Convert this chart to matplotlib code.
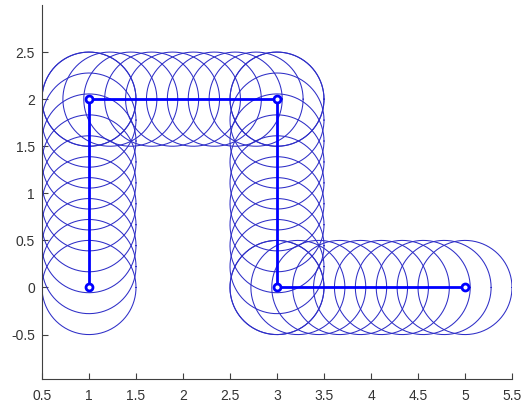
import numpy as np
import matplotlib
matplotlib.use("Agg")
import matplotlib.pyplot as plt

# Path vertices
path_x = [1, 1, 3, 3, 5]
path_y = [0, 2, 2, 0, 0]
radius = 0.5
samples_per_segment = 10

x_ticks = [0.5, 1, 1.5, 2, 2.5, 3, 3.5, 4, 4.5, 5, 5.5]
x_tick_labels = ["0.5", "1", "1.5", "2", "2.5", "3", "3.5", "4", "4.5", "5", "5.5"]
y_ticks = [-0.5, 0, 0.5, 1, 1.5, 2, 2.5]
y_tick_labels = ["-0.5", "0", "0.5", "1", "1.5", "2", "2.5"]

plt.rcParams['font.family'] = ['Liberation Sans', 'DejaVu Sans']

W, H = 528, 407
fig = plt.figure(figsize=(W / 100, H / 100), dpi=100)
left, right, top, bottom = 42, 512, 5, 379.3
ax = fig.add_axes([left / W, (H - bottom) / H, (right - left) / W, (bottom - top) / H])

theta = np.linspace(0, 2 * np.pi, 240)
for i in range(len(path_x) - 1):
    cx = np.linspace(path_x[i], path_x[i + 1], samples_per_segment)
    cy = np.linspace(path_y[i], path_y[i + 1], samples_per_segment)
    for x0, y0 in zip(cx, cy):
        ax.plot(x0 + radius * np.cos(theta), y0 + radius * np.sin(theta),
                color=(0.18, 0.18, 0.78), lw=0.75)

ax.plot(path_x, path_y, color=(0, 0, 1), lw=2.0, marker='o',
        markersize=5, markerfacecolor='white', markeredgecolor=(0, 0, 1),
        markeredgewidth=2.0, zorder=5)

ax.set_xlim(0.5, 5.5)
ax.set_ylim(-0.975, 3.0)
ax.set_xticks(x_ticks)
ax.set_xticklabels(x_tick_labels)
ax.set_yticks(y_ticks)
ax.set_yticklabels(y_tick_labels)

for side in ("top", "right"):
    ax.spines[side].set_visible(False)
for side in ("left", "bottom"):
    ax.spines[side].set_color("#404040")
    ax.spines[side].set_linewidth(0.8)
ax.tick_params(direction="in", length=4, width=0.8, colors="#404040",
               labelsize=10, labelcolor="#333333")
ax.tick_params(axis="x", pad=7)
ax.tick_params(axis="y", pad=5)

fig.savefig("out.png", dpi=100)
